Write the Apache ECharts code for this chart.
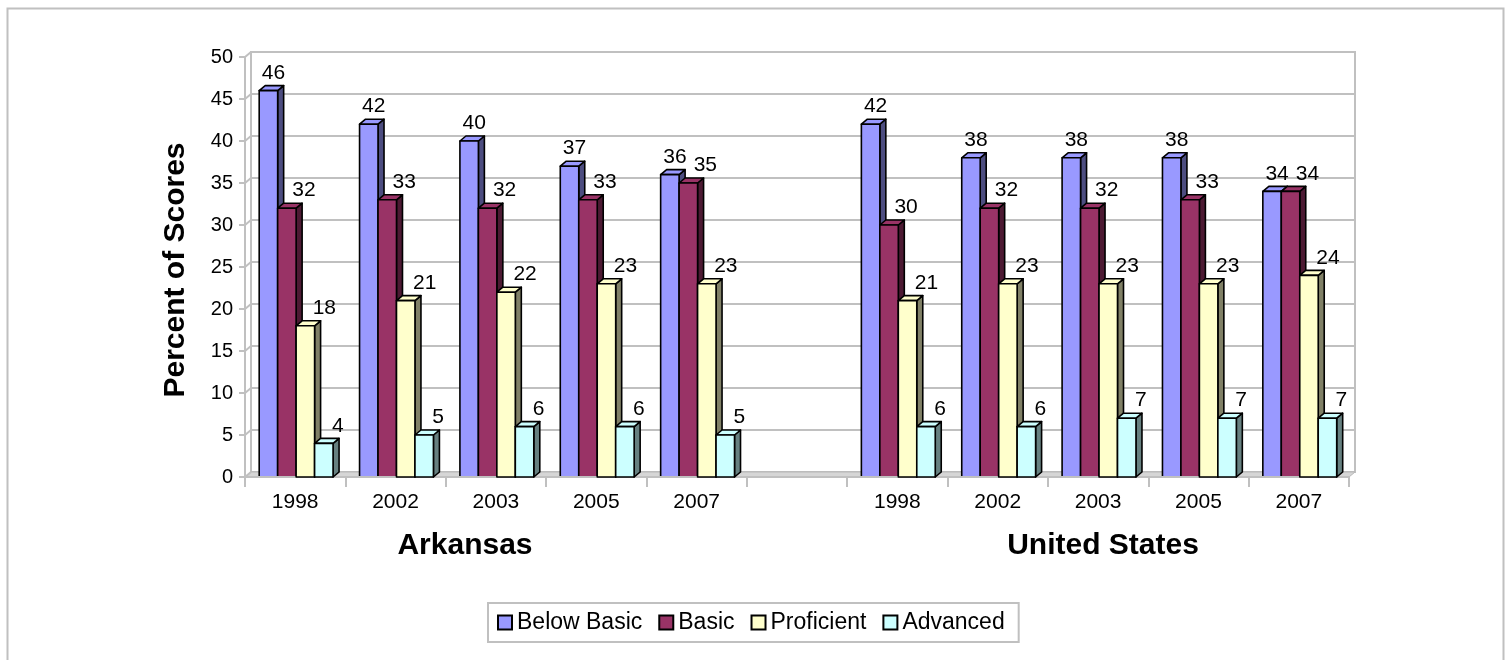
<!DOCTYPE html>
<html><head><meta charset="utf-8">
<script src="https://cdn.jsdelivr.net/npm/echarts/dist/echarts.min.js"></script>
<style>html,body{margin:0;padding:0;background:#fff}#c{width:1505px;height:660px}</style>
</head><body><div id="c"></div><script>
// ---- data ----
const categories = ['1998','2002','2003','2005','2007','','1998','2002','2003','2005','2007'];
const seriesNames = ['Below Basic','Basic','Proficient','Advanced'];
const belowBasic = [46,42,40,37,36,null,42,38,38,38,34];
const basic      = [32,33,32,33,35,null,30,32,32,33,34];
const proficient = [18,21,22,23,23,null,21,23,23,23,24];
const advanced   = [4,5,6,6,5,null,6,6,7,7,7];
const yTicks = [0,5,10,15,20,25,30,35,40,45,50];
const yMin = 0, yMax = 50, yStep = 5;
const groupLabels = ['Arkansas','United States'];
const yTitle = 'Percent of Scores';

// ---- styles ----
const FONT = '"Liberation Sans", Arial, sans-serif';
const frontColors = ['#9999FF','#993366','#FFFFCC','#CCFFFF'];
const sideColors  = ['#4D4D80','#4D1A33','#808066','#668080'];
const topColors   = ['#9999FF','#993366','#FFFFCC','#CCFFFF'];
const labelDx = [5, 17, 19, 14];
const DX = 6, DY = 5;
const BAR_FRAC = 0.184, LEFT_FRAC = 0.3586;
const GRAY = '#C0C0C0';

const seriesValues = [belowBasic, basic, proficient, advanced];

function barRender(si){
  return function(params, api){
    const idx = api.value(0), v = api.value(1);
    const p0 = api.coord([idx, 0]), p1 = api.coord([idx, v]);
    const band = api.size([1, 0])[0];
    const w = band * BAR_FRAC;
    const x0 = p0[0] - band * LEFT_FRAC + si * w, x1 = x0 + w;
    const yb = p0[1], yt = p1[1];
    const st = {stroke:'#000', lineWidth:1.6, lineJoin:'round'};
    return {type:'group', children:[
      {type:'polygon', shape:{points:[[x1,yt],[x1+DX,yt-DY],[x1+DX,yb-DY],[x1,yb]]},
        style:Object.assign({fill:sideColors[si]}, st)},
      {type:'polygon', shape:{points:[[x0,yt],[x0+DX,yt-DY],[x1+DX,yt-DY],[x1,yt]]},
        style:Object.assign({fill:topColors[si]}, st)},
      {type:'rect', shape:{x:x0, y:yt, width:w, height:yb-yt},
        style:Object.assign({fill:frontColors[si]}, st)},
      {type:'text', x:(x0+x1)/2 + labelDx[si], y:yt - 7, z2:10,
        style:{text:String(v), fontSize:21, fontFamily:FONT, fill:'#000',
               align:'center', verticalAlign:'bottom'}}
    ]};
  };
}

function floorRender(params, api){
  const band = api.size([1, 0])[0];
  const a = api.coord([0, 0]), b = api.coord([categories.length - 1, 0]);
  const xl = a[0] - band/2, xr = b[0] + band/2, y = a[1];
  return {type:'polygon', shape:{points:[[xl,y],[xl+DX,y-DY],[xr+DX,y-DY],[xr,y]]},
    style:{fill:'#D6D6D6', stroke:'#B8B8B8', lineWidth:1}};
}

function tickRender(params, api){
  const band = api.size([1, 0])[0];
  const p = api.coord([0, api.value(1)]);
  const x = p[0] - band/2, y = p[1];
  return {type:'line', shape:{x1:x, y1:y, x2:x+DX, y2:y-DY},
    style:{stroke:GRAY, lineWidth:2}};
}

const series = [{
  type:'custom', name:'floor', xAxisIndex:0, yAxisIndex:0, silent:true, z:1,
  data:[[0,0]], renderItem:floorRender
},{
  type:'custom', name:'wallTicks', xAxisIndex:0, yAxisIndex:0, silent:true, z:1,
  encode:{x:0, y:1},
  data:yTicks.map(t => [0, t]), renderItem:tickRender
}];
seriesValues.forEach((arr, si) => {
  series.push({
    type:'custom', name:seriesNames[si], xAxisIndex:0, yAxisIndex:0, z:2+si,
    itemStyle:{color:frontColors[si]},
    encode:{x:0, y:1},
    data:arr.map((v,i) => v == null ? null : [i, v]).filter(d => d),
    renderItem:barRender(si)
  });
});

const chart = echarts.init(document.getElementById('c'), null, {renderer:'canvas'});
chart.setOption({
  animation:false,
  backgroundColor:'#fff',
  textStyle:{fontFamily:FONT},
  grid:[
    {left:245, right:156, top:57, bottom:183},
    {left:245+DX, right:156-DX, top:57-DY, bottom:183+DY, show:true,
     borderColor:GRAY, borderWidth:2, backgroundColor:'transparent', z:0}
  ],
  xAxis:[
    {type:'category', gridIndex:0, data:categories, boundaryGap:true,
     axisLine:{show:true, lineStyle:{color:GRAY, width:2}},
     axisTick:{show:true, length:10, interval:0, lineStyle:{color:GRAY, width:2}},
     axisLabel:{interval:0, fontSize:21, color:'#000', margin:15, fontFamily:FONT},
     splitLine:{show:false}, z:3},
    {type:'value', gridIndex:1, show:false, min:0, max:1}
  ],
  yAxis:[
    {type:'value', gridIndex:0, min:yMin, max:yMax, interval:yStep,
     axisLine:{show:true, lineStyle:{color:GRAY, width:2}},
     axisTick:{show:true, length:6, lineStyle:{color:GRAY, width:2}},
     axisLabel:{fontSize:20, color:'#000', margin:12, fontFamily:FONT},
     splitLine:{show:false}, z:3},
    {type:'value', gridIndex:1, min:yMin, max:yMax, interval:yStep,
     axisLine:{show:false}, axisTick:{show:false}, axisLabel:{show:false},
     splitLine:{show:true, lineStyle:{color:GRAY, width:2}}, z:0}
  ],
  legend:{
    data:seriesNames, left:488, top:603, orient:'horizontal',
    icon:'rect', itemWidth:14, itemHeight:14, itemGap:16,
    padding:[8,14,8,9], borderColor:GRAY, borderWidth:2,
    itemStyle:{borderColor:'#000', borderWidth:2},
    textStyle:{fontSize:23, color:'#000', fontFamily:FONT},
    selectedMode:false
  },
  graphic:[
    {type:'rect', left:5, top:6, silent:true,
     shape:{x:0, y:0, width:1496, height:720},
     style:{fill:'none', stroke:GRAY, lineWidth:2}},
    {type:'text', x:176, y:270, rotation:Math.PI/2,
     style:{text:yTitle, fontSize:30, fontWeight:'bold', fontFamily:FONT, fill:'#000',
            align:'center', verticalAlign:'middle'}},
    {type:'text', x:465, y:546,
     style:{text:groupLabels[0], fontSize:30, fontWeight:'bold', fontFamily:FONT, fill:'#000',
            align:'center', verticalAlign:'middle'}},
    {type:'text', x:1103, y:546,
     style:{text:groupLabels[1], fontSize:30, fontWeight:'bold', fontFamily:FONT, fill:'#000',
            align:'center', verticalAlign:'middle'}}
  ],
  series:series
});
</script></body></html>
